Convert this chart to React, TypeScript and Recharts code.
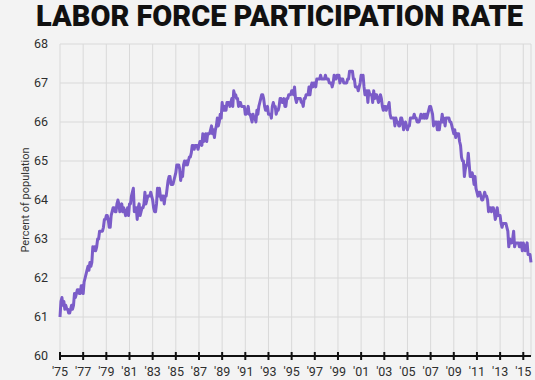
import React from "react";
import { LineChart, Line, XAxis, YAxis, CartesianGrid, Label } from "recharts";

// monthly labor force participation rate, Jan 1975 - Sep 2015
const rate1975to1984 = [
  61.0, 61.4, 61.5, 61.3, 61.4, 61.2, 61.3, 61.2, 61.2, 61.1, 61.1, 61.2,
  61.3, 61.2, 61.3, 61.6, 61.5, 61.6, 61.7, 61.7, 61.6, 61.6, 61.8, 61.8,
  61.6, 61.9, 62.0, 62.1, 62.2, 62.3, 62.2, 62.4, 62.3, 62.4, 62.8, 62.7,
  62.8, 62.7, 62.8, 63.0, 63.0, 63.2, 63.2, 63.2, 63.2, 63.3, 63.5, 63.5,
  63.6, 63.6, 63.5, 63.3, 63.3, 63.6, 63.7, 63.8, 63.8, 63.7, 63.7, 63.9,
  64.0, 63.9, 63.7, 63.8, 63.9, 63.7, 63.8, 63.7, 63.6, 63.7, 63.8, 63.6,
  63.9, 63.9, 64.1, 64.2, 64.3, 63.7, 63.8, 63.8, 63.5, 63.8, 63.9, 63.6,
  63.7, 63.8, 63.8, 63.9, 64.2, 63.9, 64.0, 64.1, 64.1, 64.1, 64.2, 64.1,
  64.0, 63.8, 63.7, 63.7, 63.9, 64.3, 64.1, 64.3, 64.1, 64.0, 64.1, 64.1,
  63.9, 64.1, 64.1, 64.3, 64.5, 64.6, 64.6, 64.4, 64.4, 64.4, 64.5, 64.6,
];

const rate1985to1994 = [
  64.7, 64.9, 64.9, 64.9, 64.8, 64.5, 64.7, 64.6, 64.9, 65.0, 64.9, 65.0,
  64.9, 65.0, 65.1, 65.1, 65.2, 65.4, 65.4, 65.3, 65.4, 65.4, 65.4, 65.3,
  65.4, 65.5, 65.5, 65.4, 65.7, 65.5, 65.6, 65.7, 65.5, 65.7, 65.7, 65.7,
  65.8, 65.9, 65.7, 65.8, 65.6, 65.8, 65.9, 66.1, 65.9, 66.0, 66.2, 66.1,
  66.5, 66.3, 66.3, 66.4, 66.3, 66.5, 66.5, 66.5, 66.4, 66.5, 66.6, 66.4,
  66.8, 66.7, 66.7, 66.6, 66.6, 66.4, 66.5, 66.5, 66.4, 66.4, 66.4, 66.4,
  66.2, 66.2, 66.3, 66.4, 66.2, 66.2, 66.1, 66.0, 66.2, 66.1, 66.1, 66.0,
  66.3, 66.2, 66.4, 66.5, 66.6, 66.7, 66.7, 66.6, 66.4, 66.3, 66.3, 66.4,
  66.2, 66.2, 66.2, 66.1, 66.4, 66.5, 66.4, 66.4, 66.2, 66.3, 66.3, 66.4,
  66.6, 66.6, 66.5, 66.5, 66.6, 66.4, 66.4, 66.6, 66.6, 66.7, 66.7, 66.7,
];

const rate1995to2004 = [
  66.8, 66.8, 66.7, 66.9, 66.6, 66.5, 66.6, 66.6, 66.6, 66.6, 66.5, 66.5,
  66.4, 66.6, 66.6, 66.7, 66.7, 66.7, 66.9, 66.7, 66.9, 67.0, 66.9, 67.0,
  67.0, 66.9, 67.1, 67.1, 67.1, 67.1, 67.2, 67.1, 67.1, 67.1, 67.1, 67.2,
  67.1, 67.1, 67.1, 67.0, 67.0, 67.0, 66.9, 67.0, 67.2, 67.1, 67.1, 67.2,
  67.2, 67.2, 67.0, 67.1, 67.1, 67.1, 67.0, 67.0, 67.0, 67.0, 67.1, 67.1,
  67.3, 67.3, 67.3, 67.3, 67.1, 67.1, 66.9, 66.9, 66.9, 66.8, 66.9, 67.0,
  67.2, 67.1, 67.2, 66.9, 66.7, 66.7, 66.8, 66.5, 66.8, 66.7, 66.7, 66.7,
  66.5, 66.8, 66.6, 66.7, 66.7, 66.6, 66.5, 66.6, 66.7, 66.6, 66.4, 66.3,
  66.4, 66.4, 66.3, 66.4, 66.4, 66.5, 66.2, 66.1, 66.1, 66.1, 66.1, 65.9,
  66.1, 66.0, 66.0, 65.9, 65.9, 66.1, 66.1, 66.0, 65.8, 65.9, 66.0, 65.9,
];

const rate2005to2015 = [
  65.8, 65.9, 65.9, 66.1, 66.1, 66.1, 66.1, 66.2, 66.1, 66.1, 66.0, 66.0,
  66.0, 66.1, 66.2, 66.1, 66.1, 66.2, 66.1, 66.2, 66.1, 66.2, 66.3, 66.4,
  66.4, 66.3, 66.2, 65.9, 66.0, 66.0, 66.0, 65.8, 66.0, 65.8, 66.0, 66.0,
  66.2, 66.0, 66.1, 65.9, 66.1, 66.1, 66.1, 66.1, 66.0, 66.0, 65.9, 65.8,
  65.7, 65.8, 65.6, 65.7, 65.7, 65.7, 65.5, 65.4, 65.1, 65.0, 65.0, 64.6,
  64.8, 64.9, 64.9, 65.2, 64.9, 64.6, 64.6, 64.7, 64.6, 64.4, 64.6, 64.3,
  64.2, 64.1, 64.2, 64.2, 64.1, 64.0, 64.0, 64.1, 64.2, 64.1, 64.1, 64.0,
  63.7, 63.8, 63.8, 63.7, 63.8, 63.8, 63.7, 63.5, 63.6, 63.8, 63.6, 63.6,
  63.6, 63.4, 63.3, 63.4, 63.4, 63.4, 63.4, 63.3, 63.2, 62.8, 63.0, 62.9,
  62.9, 63.0, 63.2, 62.8, 62.9, 62.9, 62.9, 62.9, 62.8, 62.9, 62.9, 62.7,
  62.9, 62.8, 62.7, 62.8, 62.9, 62.6, 62.6, 62.6, 62.4,
];

const yearTicks = [
  1975, 1977, 1979, 1981, 1983, 1985, 1987, 1989, 1991, 1993, 1995, 1997,
  1999, 2001, 2003, 2005, 2007, 2009, 2011, 2013, 2015,
];
const rateTicks = [60, 61, 62, 63, 64, 65, 66, 67, 68];

const allRates = [...rate1975to1984, ...rate1985to1994, ...rate1995to2004, ...rate2005to2015];
const data = allRates.map((rate, i) => ({ t: 1975 + i / 12, rate }));

const TICK_SIZE = 4;
const TICK_MARGIN = 7;

const YearTick = (props: any) => {
  const { x, y, payload } = props;
  const axisY = y - TICK_SIZE - TICK_MARGIN;
  const label = "'" + String(payload.value).slice(2);
  return (
    <g>
      <line x1={x} x2={x} y1={axisY - 4} y2={axisY + 4} stroke="#111" strokeWidth={2} />
      <text x={x} y={y} dy="0.71em" textAnchor="middle" fill="#2e2e2e" fontSize={12.5} fontFamily="Roboto">
        {label}
      </text>
    </g>
  );
};

export default function App() {
  return (
    <div
      style={{
        position: "absolute",
        left: 0,
        top: 0,
        width: 535,
        height: 380,
        background: "#f3f3f3",
        fontFamily: "Roboto",
      }}
    >
      <svg width={535} height={44} style={{ position: "absolute", left: 0, top: 0 }}>
        <text
          x={36}
          y={26}
          fontFamily="Roboto"
          fontWeight={900}
          fontSize={29}
          fill="#111"
          textLength={487}
          lengthAdjust="spacingAndGlyphs"
        >
          LABOR FORCE PARTICIPATION RATE
        </text>
      </svg>
      <div style={{ position: "absolute", left: 0, top: 0 }}>
        <LineChart width={535} height={380} data={data} margin={{ top: 44, right: 4, bottom: 0, left: 0 }}>
          <CartesianGrid stroke="#d9d9d9" strokeWidth={1} />
          <XAxis
            dataKey="t"
            type="number"
            domain={[1975, 2015 + 8 / 12]}
            ticks={yearTicks}
            tickSize={TICK_SIZE}
            tickMargin={TICK_MARGIN}
            tickLine={false}
            tick={<YearTick />}
            axisLine={{ stroke: "#111", strokeWidth: 2 }}
            height={24}
            interval={0}
          />
          <YAxis
            type="number"
            domain={[60, 68]}
            ticks={rateTicks}
            width={60}
            axisLine={false}
            tickLine={false}
            tickSize={0}
            tickMargin={12}
            tick={{ fill: "#2e2e2e", fontSize: 12.5, fontFamily: "Roboto" }}
            interval={0}
          >
            <Label
              value="Percent of population"
              angle={-90}
              position="center"
              dx={-5}
              fill="#333"
              fontSize={11}
              fontFamily="Roboto"
            />
          </YAxis>
          <Line
            type="linear"
            dataKey="rate"
            stroke="#7b5cc8"
            strokeWidth={3}
            strokeLinejoin="round"
            dot={false}
            isAnimationActive={false}
          />
        </LineChart>
      </div>
    </div>
  );
}
